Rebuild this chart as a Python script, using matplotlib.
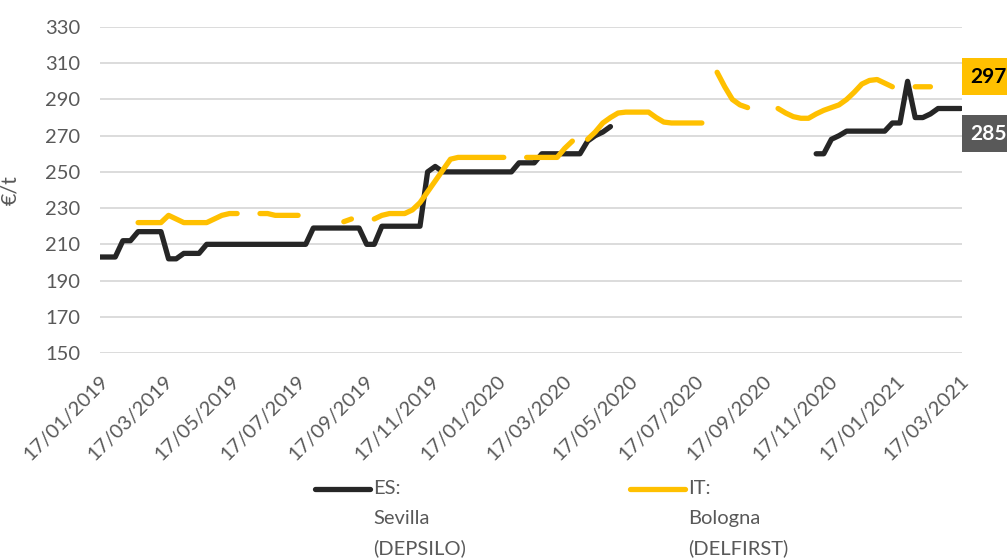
import numpy as np
import pandas as pd
import matplotlib
matplotlib.use('Agg')
import matplotlib.pyplot as plt
from matplotlib.lines import Line2D

plt.rcParams['font.family'] = ['Lato', 'DejaVu Sans']

nan = np.nan
# weekly quotes, first one on 17/01/2019
weeks = pd.date_range('2019-01-17', periods=114, freq='7D')

es_sevilla = [203, 203, 203, 212, 212, 217, 217, 217, 217, 202, 202, 205, 205, 205,
              210, 210, 210, 210, 210, 210, 210, 210, 210, 210, 210, 210, 210, 210,
              219, 219, 219, 219, 219, 219, 219, 210, 210,
              220, 220, 220, 220, 220, 220, 250, 253,
              250, 250, 250, 250, 250, 250, 250, 250, 250, 250,
              255, 255, 255, 260, 260, 260, 260, 260, 260, 267, 270, 272, 275] \
    + [nan] * 26 \
    + [260, 260, 268, 270, 272.5, 272.5, 272.5, 272.5, 272.5, 272.5, 277, 277, 300, 280, 280, 282,
       285, 285, 285, 285]

it_bologna = [nan] * 5 \
    + [222, 222, 222, 222, 226, 224, 222, 222, 222, 222, 224, 226, 227, 227] \
    + [nan, nan, 227, 227, 226, 226, 226, 226] \
    + [nan] * 5 + [222.5, 224] + [nan, nan] \
    + [224, 226, 227, 227, 227, 229, 233, 239, 245, 251, 257,
       258, 258, 258, 258, 258, 258, 258] \
    + [nan, nan, 258, 258, 258, 258, 258, 263, 267, nan] \
    + [268, 272, 277, 280, 282.5, 283, 283, 283, 283, 280, 277.5, 277, 277, 277, 277, 277] \
    + [nan, 305, 297, 290, 287, 285.5] + [nan] * 3 \
    + [285, 282.5, 280.5, 279.6, 279.6, 282, 284, 285.5, 287, 290, 294, 298.5,
       300.5, 301, 299, 297] \
    + [nan, nan, 297, 297, 297] + [nan] * 4

tick_labels = ['17/01/2019', '17/03/2019', '17/05/2019', '17/07/2019', '17/09/2019',
               '17/11/2019', '17/01/2020', '17/03/2020', '17/05/2020', '17/07/2020',
               '17/09/2020', '17/11/2020', '17/01/2021', '17/03/2021']
tick_dates = pd.to_datetime(tick_labels, format='%d/%m/%Y')

BLACK = '#262626'
YELLOW = '#FFC000'
GREY = '#595959'

fig = plt.figure(figsize=(10.07, 5.59), dpi=100)
ax = fig.add_axes([100 / 1007, 1 - 353 / 559, 862 / 1007, 326 / 559])

ax.plot(weeks, es_sevilla, color=BLACK, lw=3.8, solid_capstyle='round', solid_joinstyle='round', zorder=3)
ax.plot(weeks, it_bologna, color=YELLOW, lw=3.8, solid_capstyle='round', solid_joinstyle='round', zorder=4)

ax.set_ylim(150, 330)
ax.set_yticks(range(150, 331, 20))
ax.set_xlim(weeks[0], pd.Timestamp('2021-03-19'))
ax.set_xticks(tick_dates)
ax.set_xticklabels(tick_labels, rotation=45, ha='right', rotation_mode='anchor')
ax.grid(axis='y', color='#D9D9D9', lw=1.3)
ax.set_axisbelow(True)
for s in ax.spines.values():
    s.set_visible(False)
ax.tick_params(axis='both', length=0, labelsize=14.5, labelcolor=GREY)
ax.tick_params(axis='y', pad=14)
ax.tick_params(axis='x', pad=14)
ax.set_ylabel('€/t', fontsize=15.5, color=GREY)
ax.yaxis.set_label_coords(-0.093, 0.5)

# last value boxes
ax.annotate('297', xy=(1, 297), xycoords=('axes fraction', 'data'), xytext=(8, 10),
            textcoords='offset pixels', ha='left', va='center', fontsize=15, fontweight='bold',
            color='black', annotation_clip=False,
            bbox=dict(boxstyle='square,pad=0.4', fc=YELLOW, ec='none'))
ax.annotate('285', xy=(1, 285), xycoords=('axes fraction', 'data'), xytext=(8, -25),
            textcoords='offset pixels', ha='left', va='center', fontsize=15, fontweight='bold',
            color='white', annotation_clip=False,
            bbox=dict(boxstyle='square,pad=0.4', fc=GREY, ec='none'))

# legend
legend_items = [(BLACK, ['ES:', 'Sevilla', '(DEPSILO)'], 315, 370, 373),
                (YELLOW, ['IT:', 'Bologna', '(DELFIRST)'], 630, 685, 688)]
for col, lines, x0, x1, xt in legend_items:
    fig.add_artist(Line2D([x0 / 1007, x1 / 1007], [1 - 489 / 559] * 2, transform=fig.transFigure,
                          color=col, lw=3.8, solid_capstyle='round'))
    for k, txt in enumerate(lines):
        fig.text(xt / 1007, 1 - (489 + 29.5 * k) / 559, txt, ha='left', va='center',
                 fontsize=14.5, color=GREY)

fig.savefig('out.png', dpi=100)
